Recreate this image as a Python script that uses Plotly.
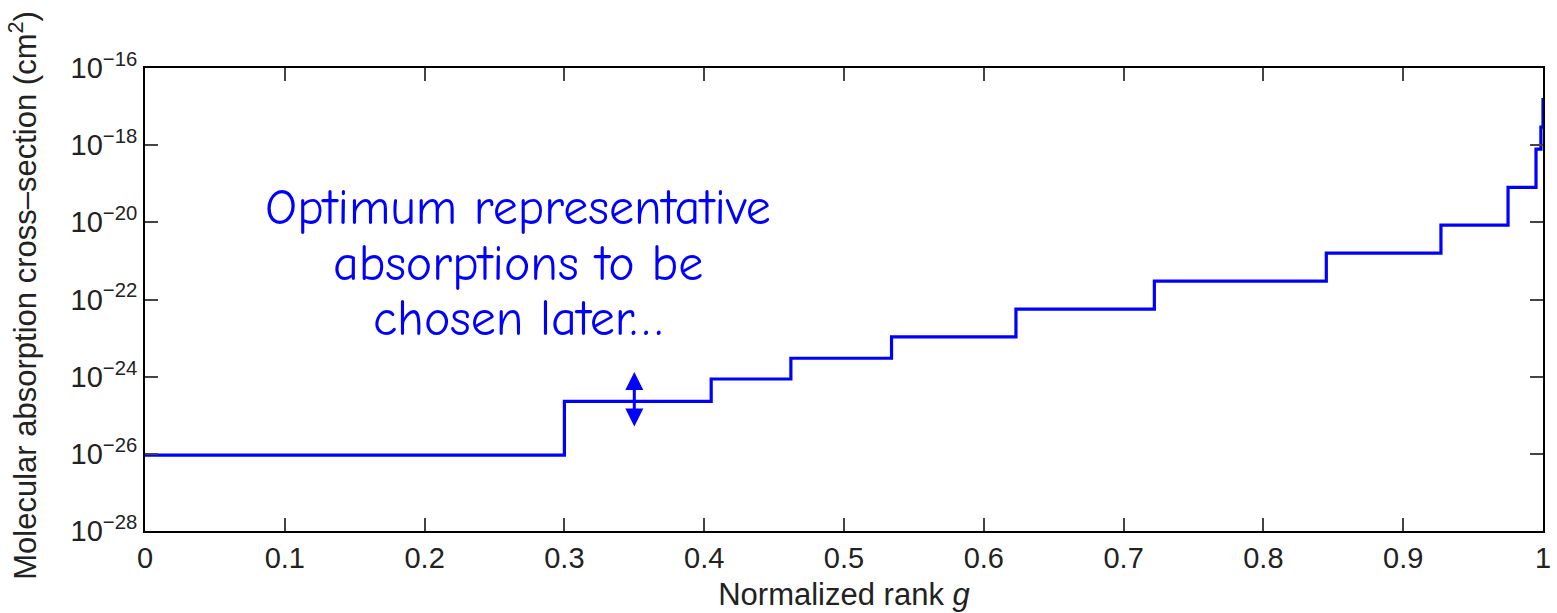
import plotly.graph_objects as go

# Step profile: rank g at the start of each level, and the cross-section on that level
g_start = [0.0, 0.300, 0.405, 0.462, 0.534, 0.623, 0.722, 0.845, 0.927, 0.975, 0.995, 0.9985, 1.0]
sigma = [9.3e-27, 2.3e-25, 8.7e-25, 3.0e-24, 1.07e-23, 5.6e-23, 3.0e-22, 1.6e-21,
         8.5e-21, 8.1e-20, 7.9e-19, 2.95e-18, 1.66e-17]

x_ticks = [0, 0.1, 0.2, 0.3, 0.4, 0.5, 0.6, 0.7, 0.8, 0.9, 1]
x_ticktext = ["0", "0.1", "0.2", "0.3", "0.4", "0.5", "0.6", "0.7", "0.8", "0.9", "1"]
y_exponents = [-28, -26, -24, -22, -20, -18, -16]

# Double-headed marker range (log10 units) at g = 0.35
arrow_g = 0.35
arrow_top, arrow_bottom = -23.88, -25.33

note_lines = ["Optimum representative", "absorptions to be", "chosen later…"]
note_y = [-19.63, -21.08, -22.5]   # log10 position of each text line's centre

sans = "Liberation Sans, Arial, Helvetica, sans-serif"
tick_font = dict(family=sans, size=29, color="#222")

fig = go.Figure()
fig.add_trace(go.Scatter(
    x=g_start, y=sigma, mode="lines", line_shape="hv",
    line=dict(color="#0000FF", width=3.2), showlegend=False, hoverinfo="skip",
))

fig.update_xaxes(
    range=[0, 1], tickvals=x_ticks, ticktext=x_ticktext, ticklabeloverflow="allow",
    ticks="inside", ticklen=13, tickwidth=1.5, tickcolor="#444",
    showline=True, linecolor="black", linewidth=2, mirror="ticks",
    showgrid=False, zeroline=False, tickfont=tick_font,
    title=dict(text="Normalized rank <i>g</i>", font=dict(family=sans, size=31, color="#222"), standoff=11),
)
fig.update_yaxes(
    type="log", range=[-28, -16],
    tickvals=[10.0 ** e for e in y_exponents],
    ticktext=[f"10<sup>−{abs(e)}</sup>" for e in y_exponents],
    ticks="inside", ticklen=13, tickwidth=1.5, tickcolor="#444",
    showline=True, linecolor="black", linewidth=2, mirror="ticks",
    showgrid=False, zeroline=False, tickfont=tick_font,
)

fig.add_annotation(
    x=(22 - 145) / 1406, y=(531 - 295) / 463, xref="paper", yref="paper", textangle=-90,
    showarrow=False, text="Molecular absorption cross–section (cm<sup>2</sup>)",
    font=dict(family=sans, size=31, color="#222"),
    xanchor="center", yanchor="middle",
)

fig.add_annotation(
    x=arrow_g, y=arrow_top, ax=arrow_g, ay=arrow_bottom,
    xref="x", yref="y", axref="x", ayref="y", text="", showarrow=True,
    arrowhead=2, startarrowhead=2, arrowside="end+start",
    arrowsize=1.2, startarrowsize=1.2, arrowwidth=3, arrowcolor="#0000FF",
)

for line, ly in zip(note_lines, note_y):
    fig.add_annotation(
        x=0.267, y=ly, xref="x", yref="y", showarrow=False, text=line,
        font=dict(family="Comic Sans MS, Comic Neue, DejaVu Sans, sans-serif", size=50, color="#0000FF"),
        xanchor="center", yanchor="middle",
    )

fig.update_layout(
    width=1557, height=613, autosize=False,
    margin=dict(l=145, r=6, t=68, b=82),
    paper_bgcolor="white", plot_bgcolor="white",
)

fig.write_html("out.html")
